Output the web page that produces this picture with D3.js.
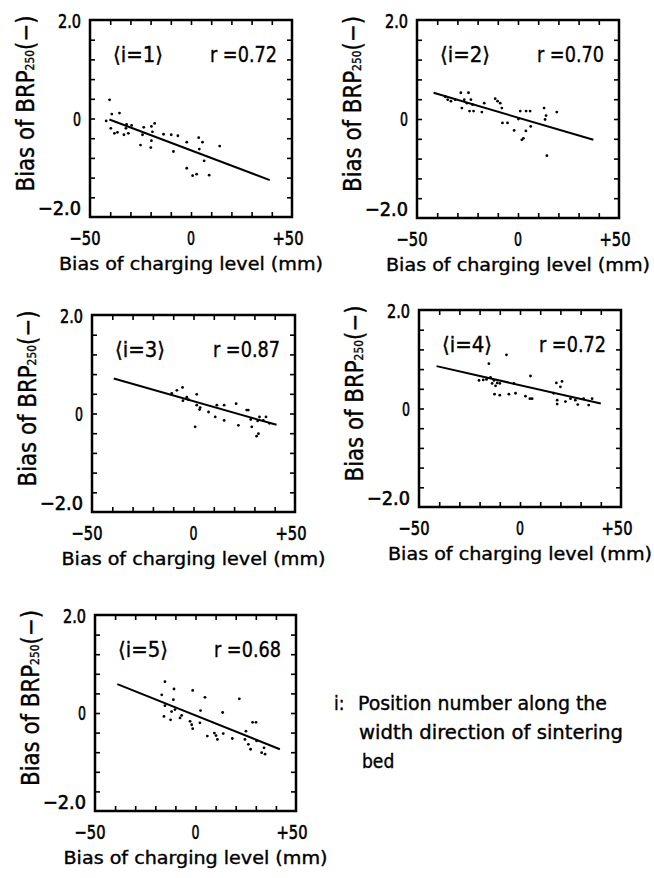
<!DOCTYPE html>
<html>
<head>
<meta charset="utf-8">
<script src="https://cdn.jsdelivr.net/npm/d3@7"></script>
<style>
  body { margin: 0; background: #fff; }
  svg text { font-family: "Liberation Sans Narrow", "DejaVu Sans Condensed", "DejaVu Sans", sans-serif; font-stretch: condensed; fill: #000; stroke: #000; stroke-width: 0.35; }
  svg text.ylab, svg text.xlab { stroke-width: 0.6; }
</style>
</head>
<body>
<svg width="654" height="878"></svg>
<script>
// axis values shared by every panel
const xDomain = [-50, 50];
const yDomain = [-2, 2];
const xTickValues = [-50, 0, 50];
const xTickLabels = ["\u221250", "0", "+50"];
const yTickValues = [2, 0, -2];
const yTickLabels = ["2.0", "0", "\u22122.0"];
const xMinorTicks = [-40, -30, -20, -10, 0, 10, 20, 30, 40];
const yMinorTicks = [-1.6, -1.2, -0.8, -0.4, 0, 0.4, 0.8, 1.2, 1.6];

const positionLabels = ["\u27E8i=1\u27E9", "\u27E8i=2\u27E9", "\u27E8i=3\u27E9", "\u27E8i=4\u27E9", "\u27E8i=5\u27E9"];
const rLabels = ["r =0.72", "r =0.70", "r =0.87", "r =0.72", "r =0.68"];

// bias of charging level (mm) / bias of BRP250 (-)
const bias1X = [-40.3, -42.0, -39.2, -35.4, -39.7, -37.9, -36.4, -33.2, -31.0, -32.2, -31.9, -29.4, -25.0, -23.4, -24.0, -19.6, -19.1, -18.0, -19.6, -19.9, -13.6, -9.8, -6.5, -8.7, -2.1, 3.8, 5.7, 4.1, 6.5, 14.2, -2.1, 0.8, 2.8, 9.0];
const bias1Y = [0.38, -0.05, 0.09, 0.11, -0.2, -0.3, -0.28, -0.33, -0.3, -0.2, -0.12, -0.14, -0.54, -0.18, -0.33, -0.16, -0.27, -0.1, -0.45, -0.59, -0.32, -0.33, -0.35, -0.67, -0.48, -0.39, -0.48, -0.62, -0.86, -0.56, -1.01, -1.16, -1.13, -1.15];
const fit1 = [[-40.4, -0.02], [39.0, -1.25]];

const bias2X = [-36.0, -34.8, -33.2, -31.1, -28.3, -27.8, -26.6, -25.3, -24.5, -23.3, -24.0, -22.0, -22.5, -17.9, -16.7, -11.3, -10.1, -8.8, -8.0, -7.7, -5.2, -1.9, 0.2, 1.1, 1.9, 2.7, 3.9, 4.0, 6.0, 6.3, 12.9, 13.4, 13.9, 14.3, 19.2];
const bias2Y = [0.45, 0.39, 0.36, 0.39, 0.53, 0.22, 0.39, 0.32, 0.53, 0.39, 0.16, 0.16, 0.29, 0.14, 0.32, 0.41, 0.36, 0.32, 0.22, -0.08, -0.08, -0.23, 0.0, 0.16, -0.42, -0.39, -0.24, 0.16, 0.16, -0.15, 0.22, -0.01, 0.07, -0.74, 0.14];
const fit2 = [[-41.8, 0.53], [37.3, -0.42]];

const bias3X = [-10.7, -8.2, -5.4, -5.2, -3.3, -2.5, 1.6, 0.8, 1.6, 3.3, 3.0, 7.4, 11.5, 10.7, 15.1, 15.1, 21.0, 22.1, 26.2, 27.0, 28.2, 28.7, 31.1, 31.6, 32.5, 34.4, 35.7, 37.4, 32.0];
const bias3Y = [0.41, 0.47, 0.53, 0.26, 0.33, 0.28, 0.39, -0.27, 0.17, 0.12, 0.08, 0.03, 0.17, -0.07, 0.17, -0.14, 0.20, -0.24, 0.07, 0.07, -0.12, -0.27, -0.46, -0.15, -0.07, -0.14, -0.07, -0.2, -0.41];
const fit3 = [[-39.3, 0.71], [40.9, -0.23]];

const bias4X = [-15.4, -6.7, 5.2, -20.3, -18.2, -16.6, -14.6, -13.8, -12.9, -12.1, -11.3, -10.0, -12.6, -5.5, -10.0, -3.0, -2.2, 2.7, 4.9, 6.0, 18.0, 20.8, 20.0, 16.7, 18.4, 18.4, 22.5, 25.0, 27.4, 28.6, 31.5, 34.0, 35.7];
const bias4Y = [0.91, 1.09, 0.66, 0.57, 0.58, 0.59, 0.63, 0.51, 0.57, 0.46, 0.52, 0.51, 0.29, 0.29, 0.27, 0.51, 0.31, 0.25, 0.20, 0.20, 0.52, 0.55, 0.44, 0.31, 0.17, 0.09, 0.14, 0.20, 0.17, 0.08, 0.20, 0.07, 0.20];
const fit4 = [[-41.3, 0.86], [40.0, 0.10]];

const bias5X = [-16.8, -15.2, -15.2, -15.7, -12.4, -11.0, -10.7, -11.9, -10.2, -7.7, -6.9, -1.4, -2.7, -1.9, -1.4, 2.2, 2.5, 4.7, 5.9, 9.4, 10.2, 10.9, 13.8, 13.5, 18.3, 21.8, 25.1, 24.6, 26.3, 27.4, 28.4, 30.1, 30.4, 32.9, 34.1, 34.6];
const bias5Y = [0.37, 0.64, 0.15, -0.07, -0.14, 0.27, 0.49, 0.03, 0.07, -0.10, -0.05, 0.46, -0.17, -0.24, -0.32, -0.20, 0.05, 0.32, -0.47, -0.41, -0.46, -0.54, -0.42, 0.01, -0.52, 0.29, -0.37, -0.54, -0.64, -0.74, -0.19, -0.19, -0.57, -0.81, -0.71, -0.84];
const fit5 = [[-38.9, 0.59], [42.0, -0.74]];

const panelX = [bias1X, bias2X, bias3X, bias4X, bias5X];
const panelY = [bias1Y, bias2Y, bias3Y, bias4Y, bias5Y];
const panelFit = [fit1, fit2, fit3, fit4, fit5];

// where each frame sits on the page
const frames = [
  { left: 90, top: 20, w: 202, h: 197 },
  { left: 417, top: 20, w: 202, h: 198 },
  { left: 92, top: 315, w: 203, h: 197 },
  { left: 419, top: 310, w: 202, h: 197 },
  { left: 95, top: 615, w: 201, h: 196 }
];
const yLabelShift = [8, 7, -2]; // the printed numbers are pulled inside the frame
const yLabelWidth = [23, 8, 43];
const xLabelShift = [-5, 0, -4];

const svg = d3.select("svg");
svg.append("rect").attr("width", 654).attr("height", 878).attr("fill", "#fff");

function drawPanel(i) {
  const f = frames[i];
  const x = d3.scaleLinear().domain(xDomain).range([0, f.w]);
  const y = d3.scaleLinear().domain(yDomain).range([f.h, 0]);
  const g = svg.append("g").attr("transform", "translate(" + f.left + "," + f.top + ")");

  // inward ticks on all four sides
  const sides = [
    [d3.axisBottom(x).tickValues(xMinorTicks), "translate(0," + f.h + ")"],
    [d3.axisTop(x).tickValues(xMinorTicks), "translate(0,0)"],
    [d3.axisLeft(y).tickValues(yMinorTicks), "translate(0,0)"],
    [d3.axisRight(y).tickValues(yMinorTicks), "translate(" + f.w + ",0)"]
  ];
  sides.forEach(function (s) {
    const a = g.append("g").attr("transform", s[1]).call(s[0].tickSize(-5).tickFormat(""));
    a.select(".domain").remove();
    a.selectAll("line").attr("stroke", "#000").attr("stroke-width", 1.6);
  });

  g.append("rect")
    .attr("width", f.w)
    .attr("height", f.h)
    .attr("fill", "none")
    .attr("stroke", "#000")
    .attr("stroke-width", 2.5);

  // tick numbers
  g.selectAll(".ylab")
    .data(yTickValues)
    .join("text")
    .attr("class", "ylab")
    .attr("x", -9)
    .attr("y", function (d, k) { return y(d) + yLabelShift[k]; })
    .attr("text-anchor", "end")
    .attr("font-size", 20)
    .attr("textLength", function (d, k) { return yLabelWidth[k]; })
    .attr("lengthAdjust", "spacingAndGlyphs")
    .text(function (d, k) { return yTickLabels[k]; });

  g.selectAll(".xlab")
    .data(xTickValues)
    .join("text")
    .attr("class", "xlab")
    .attr("x", function (d, k) { return x(d) + xLabelShift[k]; })
    .attr("y", f.h + 28)
    .attr("text-anchor", "middle")
    .attr("font-size", 20)
    .attr("textLength", function (d, k) { return d === 0 ? 8 : 31; })
    .attr("lengthAdjust", "spacingAndGlyphs")
    .text(function (d, k) { return xTickLabels[k]; });

  // axis titles
  g.append("text")
    .attr("x", f.w / 2)
    .attr("y", f.h + 53)
    .attr("text-anchor", "middle")
    .attr("font-size", 18)
    .attr("textLength", 264)
    .attr("lengthAdjust", "spacingAndGlyphs")
    .text("Bias of charging level (mm)");

  const yt = g.append("text")
    .attr("transform", "translate(-56," + (f.h / 2 - 15) + ") rotate(-90)")
    .attr("text-anchor", "middle")
    .attr("font-size", 24)
    .attr("textLength", 176)
    .attr("lengthAdjust", "spacingAndGlyphs");
  yt.append("tspan").text("Bias of BRP");
  yt.append("tspan").attr("font-size", 12).text("250");
  yt.append("tspan").text("(\u2212)");

  // panel captions
  g.append("text")
    .attr("x", 23)
    .attr("y", 42)
    .attr("font-size", 21)
    .attr("textLength", 50)
    .attr("lengthAdjust", "spacingAndGlyphs")
    .text(positionLabels[i]);
  g.append("text")
    .attr("x", f.w - 15)
    .attr("y", 42)
    .attr("text-anchor", "end")
    .attr("font-size", 21)
    .attr("textLength", 67)
    .attr("lengthAdjust", "spacingAndGlyphs")
    .text(rLabels[i]);

  // regression line and scatter
  g.append("path")
    .datum(panelFit[i])
    .attr("d", d3.line().x(function (d) { return x(d[0]); }).y(function (d) { return y(d[1]); }))
    .attr("stroke", "#000")
    .attr("stroke-width", 2)
    .attr("fill", "none");

  g.selectAll("circle")
    .data(panelX[i])
    .join("circle")
    .attr("cx", function (d) { return x(d); })
    .attr("cy", function (d, k) { return y(panelY[i][k]); })
    .attr("r", 1.4)
    .attr("fill", "#000");
}

for (let i = 0; i < frames.length; i++) {
  drawPanel(i);
}

// note at the lower right
const note = svg.append("g").attr("font-size", 19);
note.append("text").attr("x", 334).attr("y", 710).text("i:");
note.append("text").attr("x", 358).attr("y", 710).attr("textLength", 249).attr("lengthAdjust", "spacingAndGlyphs").text("Position number along the");
note.append("text").attr("x", 359).attr("y", 739).attr("textLength", 264).attr("lengthAdjust", "spacingAndGlyphs").text("width direction of sintering");
note.append("text").attr("x", 362).attr("y", 768).text("bed");
</script>
</body>
</html>
